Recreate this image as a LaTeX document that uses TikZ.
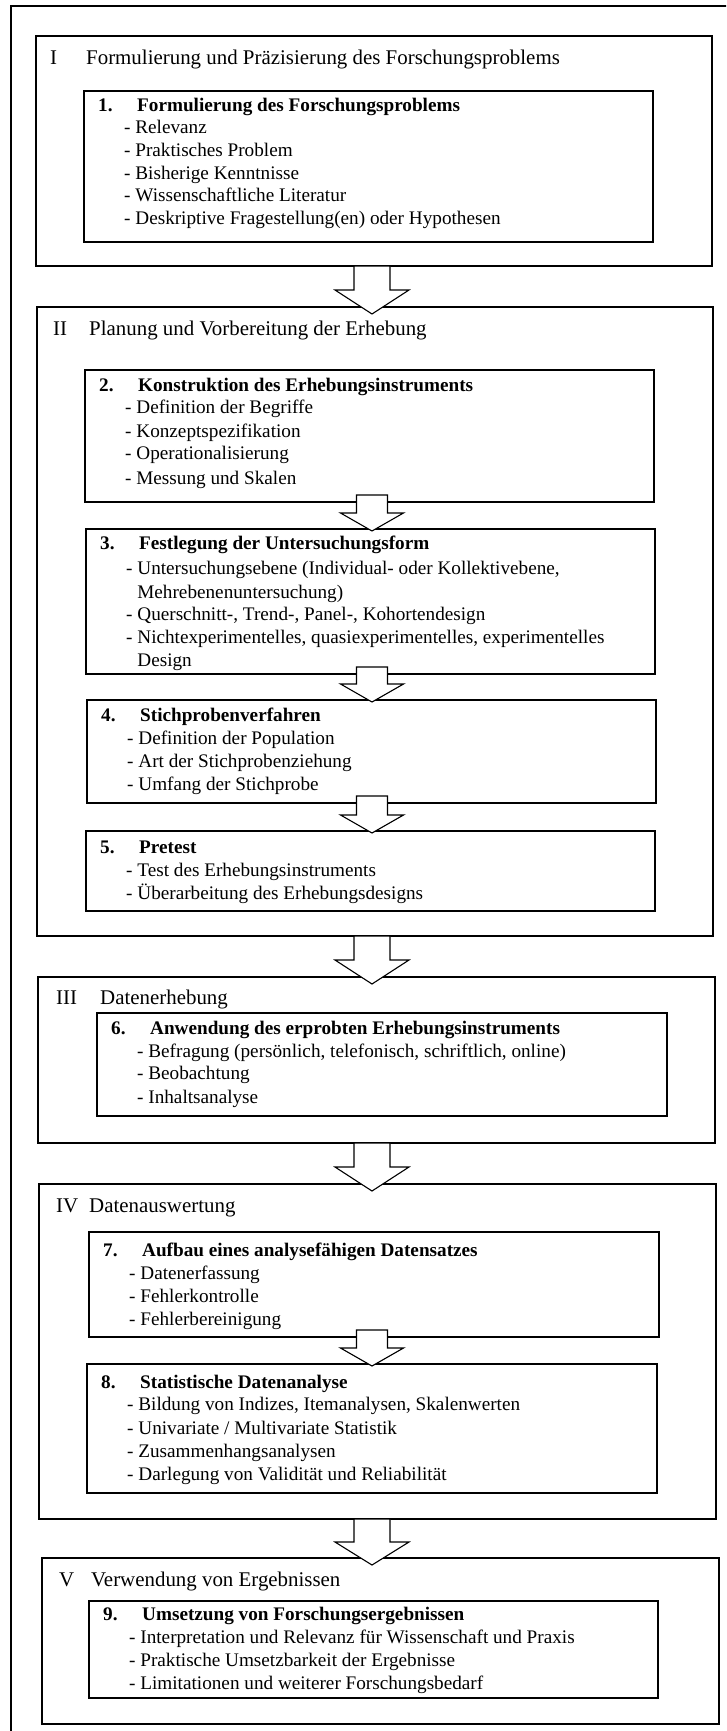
\documentclass[tikz,border=0pt]{standalone}
\usepackage{fontspec}
\setmainfont{Liberation Serif}
\usetikzlibrary{fit,calc}
\tikzset{
  outerframe/.style={draw, line width=1.4pt, inner sep=0pt, outer sep=0pt},
  secbox/.style={draw, line width=1.6pt, inner sep=0pt, outer sep=0pt},
  inbox/.style={draw, line width=1.8pt, inner sep=0pt, outer sep=0pt},
  blockarrow/.style={draw, line width=1.1pt, fill=white, line join=miter},
  head/.style={inner sep=0pt, anchor=base west, font=\fontsize{20.9}{24}\selectfont},
  ttl/.style={inner sep=0pt, anchor=base west, font=\fontsize{19.2}{22.5}\selectfont\bfseries},
  itm/.style={inner sep=0pt, anchor=base west, font=\fontsize{19.2}{22.5}\selectfont},
}
\newcommand{\bigarr}[2]{%
  \path ($(#1.south -| ax)$) coordinate (s)
        ($(#2.north -| ax)+(0,7)$) coordinate (t)
        ($(s)!0.5!(t)$) coordinate (m);
  \draw[blockarrow] ($(s)+(-18,0)$) -- ($(m)+(-18,0)$) -- ($(m)+(-37,0)$) -- (t)
     -- ($(m)+(37,0)$) -- ($(m)+(18,0)$) -- ($(s)+(18,0)$) -- cycle;}
\newcommand{\smallarr}[2]{%
  \path ($(#1.south -| ax)+(0,-7)$) coordinate (s)
        ($(#2.north -| ax)+(0,2)$) coordinate (t)
        ($(t)+(0,-18)$) coordinate (m);
  \draw[blockarrow] ($(s)+(-15.5,0)$) -- ($(m)+(-15.5,0)$) -- ($(m)+(-31.5,0)$) -- (t)
     -- ($(m)+(31.5,0)$) -- ($(m)+(15.5,0)$) -- ($(s)+(15.5,0)$) -- cycle;}
\begin{document}
\begin{tikzpicture}[x=1pt, y=-1pt]
\useasboundingbox (0,0) rectangle (726,1731);
\clip (0,0) rectangle (726,1731);
\fill[white] (0,0) rectangle (726,1731);
\coordinate (ax) at (372,0);

% outer frame (right and bottom edges lie outside the page)
\node[outerframe, fit={(11,6) (760,1760)}] (outer) {};

% ---------- I ----------
\node[secbox, fit={(36,36) (712,266)}] (I) {};
\node[head] (Inum) at (50,65) {I};
\node[head] (Itxt) at (86,65) {Formulierung und Präzisierung des Forschungsproblems};
\node[inbox, fit={(84,91) (653,242)}] (b1) {};
\node[ttl] (b1n) at (98,112) {1.};
\node[ttl] (b1t) at (137,112) {Formulierung des Forschungsproblems};
\node[itm] (b1a) at (124,134) {- Relevanz};
\node[itm] (b1b) at (124,157) {- Praktisches Problem};
\node[itm] (b1c) at (124,179) {- Bisherige Kenntnisse};
\node[itm] (b1d) at (124,201) {- Wissenschaftliche Literatur};
\node[itm] (b1e) at (124,224) {- Deskriptive Fragestellung(en) oder Hypothesen};

% ---------- II ----------
\node[secbox, fit={(37,307) (713,936)}] (II) {};
\node[head] (IInum) at (53,335) {II};
\node[head] (IItxt) at (89,335) {Planung und Vorbereitung der Erhebung};

\node[inbox, fit={(85,370) (654,502)}] (b2) {};
\node[ttl] (b2n) at (99,391) {2.};
\node[ttl] (b2t) at (138,391) {Konstruktion des Erhebungsinstruments};
\node[itm] (b2a) at (125,413) {- Definition der Begriffe};
\node[itm] (b2b) at (125,437) {- Konzeptspezifikation};
\node[itm] (b2c) at (125,459) {- Operationalisierung};
\node[itm] (b2d) at (125,484) {- Messung und Skalen};

\node[inbox, fit={(86,529) (655,674)}] (b3) {};
\node[ttl] (b3n) at (100,549) {3.};
\node[ttl] (b3t) at (139,549) {Festlegung der Untersuchungsform};
\node[itm] (b3a) at (126,574) {- Untersuchungsebene (Individual- oder Kollektivebene,};
\node[itm] (b3a2) at (137.2,598) {Mehrebenenuntersuchung)};
\node[itm] (b3b) at (126,620) {- Querschnitt-, Trend-, Panel-, Kohortendesign};
\node[itm] (b3c) at (126,643) {- Nichtexperimentelles, quasiexperimentelles, experimentelles};
\node[itm] (b3c2) at (137.2,666) {Design};

\node[inbox, fit={(87,700) (656,803)}] (b4) {};
\node[ttl] (b4n) at (101,721) {4.};
\node[ttl] (b4t) at (140,721) {Stichprobenverfahren};
\node[itm] (b4a) at (127,744) {- Definition der Population};
\node[itm] (b4b) at (127,767) {- Art der Stichprobenziehung};
\node[itm] (b4c) at (127,790) {- Umfang der Stichprobe};

\node[inbox, fit={(86,831) (655,911)}] (b5) {};
\node[ttl] (b5n) at (100,853) {5.};
\node[ttl] (b5t) at (139,853) {Pretest};
\node[itm] (b5a) at (126,876) {- Test des Erhebungsinstruments};
\node[itm] (b5b) at (126,899) {- Überarbeitung des Erhebungsdesigns};

% ---------- III ----------
\node[secbox, fit={(38,977) (715,1143)}] (III) {};
\node[head] (IIInum) at (56,1004) {III};
\node[head] (IIItxt) at (100,1004) {Datenerhebung};
\node[inbox, fit={(97,1013) (667,1116)}] (b6) {};
\node[ttl] (b6n) at (111,1034) {6.};
\node[ttl] (b6t) at (150,1034) {Anwendung des erprobten Erhebungsinstruments};
\node[itm] (b6a) at (137,1057) {- Befragung (persönlich, telefonisch, schriftlich, online)};
\node[itm] (b6b) at (137,1079) {- Beobachtung};
\node[itm] (b6c) at (137,1103) {- Inhaltsanalyse};

% ---------- IV ----------
\node[secbox, fit={(39,1184) (716,1519)}] (IV) {};
\node[head] (IVnum) at (56,1212) {IV};
\node[head] (IVtxt) at (89,1212) {Datenauswertung};
\node[inbox, fit={(89,1232) (659,1337)}] (b7) {};
\node[ttl] (b7n) at (103,1256) {7.};
\node[ttl] (b7t) at (142,1256) {Aufbau eines analysefähigen Datensatzes};
\node[itm] (b7a) at (129,1279) {- Datenerfassung};
\node[itm] (b7b) at (129,1302) {- Fehlerkontrolle};
\node[itm] (b7c) at (129,1325) {- Fehlerbereinigung};

\node[inbox, fit={(87,1364) (657,1493)}] (b8) {};
\node[ttl] (b8n) at (101,1388) {8.};
\node[ttl] (b8t) at (140,1388) {Statistische Datenanalyse};
\node[itm] (b8a) at (127,1410) {- Bildung von Indizes, Itemanalysen, Skalenwerten};
\node[itm] (b8b) at (127,1434) {- Univariate / Multivariate Statistik};
\node[itm] (b8c) at (127,1457) {- Zusammenhangsanalysen};
\node[itm] (b8d) at (127,1480) {- Darlegung von Validität und Reliabilität};

% ---------- V ----------
\node[secbox, fit={(42,1558) (719,1724)}] (V) {};
\node[head] (Vnum) at (59,1586) {V};
\node[head] (Vtxt) at (91,1586) {Verwendung von Ergebnissen};
\node[inbox, fit={(89,1601) (658,1698)}] (b9) {};
\node[ttl] (b9n) at (103,1620) {9.};
\node[ttl] (b9t) at (142,1620) {Umsetzung von Forschungsergebnissen};
\node[itm] (b9a) at (129,1643) {- Interpretation und Relevanz für Wissenschaft und Praxis};
\node[itm] (b9b) at (129,1666) {- Praktische Umsetzbarkeit der Ergebnisse};
\node[itm] (b9c) at (129,1689) {- Limitationen und weiterer Forschungsbedarf};

% ---------- arrows ----------
\bigarr{I}{II}
\smallarr{b2}{b3}
\smallarr{b3}{b4}
\smallarr{b4}{b5}
\bigarr{II}{III}
\bigarr{III}{IV}
\smallarr{b7}{b8}
\bigarr{IV}{V}
\end{tikzpicture}
\end{document}
